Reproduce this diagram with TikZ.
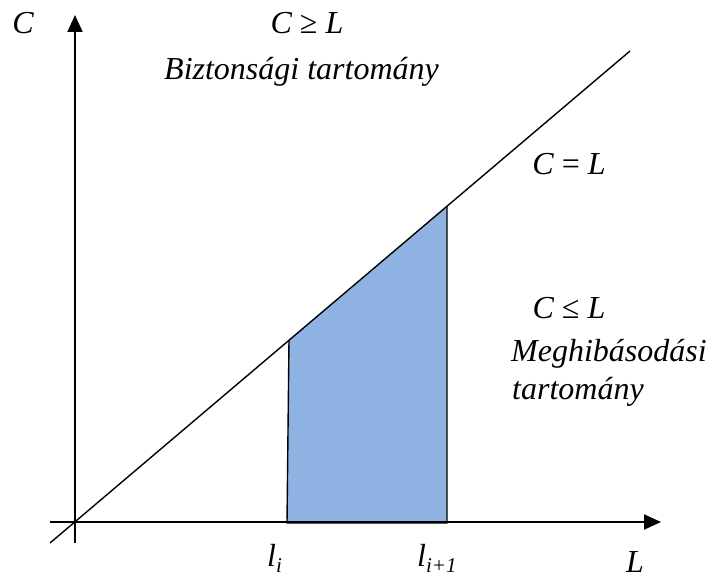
\documentclass[tikz,border=0pt]{standalone}
\usepackage{fontspec}
\setmainfont{Liberation Serif}
\usetikzlibrary{arrows.meta}
\definecolor{regionblue}{RGB}{142,178,226}
\tikzset{
  axisline/.style={line width=2pt, -{Triangle[length=17pt,width=15pt]}},
  plainline/.style={line width=1.4pt},
  lbl/.style={font=\fontsize{32}{38}\selectfont\itshape, inner sep=0pt},
}
\newcommand{\subtxt}[1]{\raisebox{-0.2em}{\fontsize{21}{21}\selectfont\itshape #1}}
\begin{document}
\begin{tikzpicture}[x=1pt,y=-1pt]
\useasboundingbox (0,0) rectangle (713,578);
% coordinates
\coordinate (ybot) at (75,543);
\coordinate (ytop) at (75,15);
\coordinate (xleft) at (50,522);
\coordinate (xright) at (661,522);
\coordinate (dstart) at (50,543);
\coordinate (dend) at (630,51);
\coordinate (a0) at (287,523);
\coordinate (a1) at (289,340);
\coordinate (b1) at (447,206);
\coordinate (b0) at (447,523);
% shaded region
\fill[regionblue] (a0) -- (a1) -- (b1) -- (b0) -- cycle;
\draw[plainline] (a1) -- (a0) -- (b0) -- (b1);
% axes
\draw[axisline] (ybot) -- (ytop);
\draw[axisline] (xleft) -- (xright);
% line C = L
\draw[plainline] (dstart) -- (dend);
% labels
\node[lbl, anchor=base] (cax) at (23,34) {C};
\node[lbl, anchor=base] (lax) at (635,572) {L};
\node[lbl, anchor=base] (cgel) at (307,34) {C {\upshape ≥} L};
\node[lbl, anchor=base west] (safe) at (164,80) {Biztonsági tartomány};
\node[lbl, anchor=base] (ceql) at (569,174) {C {\upshape =} L};
\node[lbl, anchor=base] (clel) at (569,318) {C {\upshape ≤} L};
\node[lbl, anchor=base west] (fail1) at (511,361) {Meghibásodási};
\node[lbl, anchor=base west] (fail2) at (512,399) {tartomány};
\node[lbl, anchor=base west] (li) at (267,566) {l\subtxt{i}};
\node[lbl, anchor=base west] (li1) at (417,566) {l\subtxt{i+1}};
\end{tikzpicture}
\end{document}
